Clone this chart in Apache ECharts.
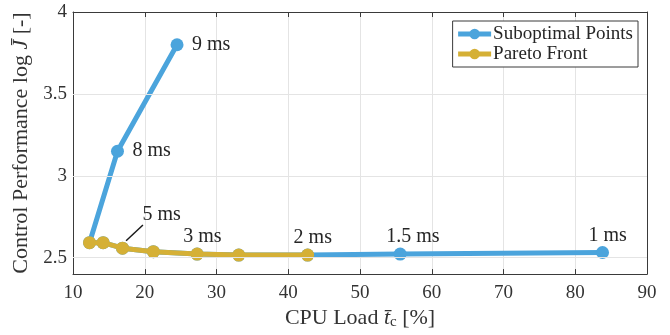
<!DOCTYPE html>
<html>
<head>
<meta charset="utf-8">
<script src="https://cdn.jsdelivr.net/npm/echarts@6/dist/echarts.min.js"></script>
<style>
  html, body { margin: 0; padding: 0; background: #fff; }
  #chart { width: 670px; height: 335px; }
</style>
</head>
<body>
<div id="chart"></div>
<script>
// Sampling periods, from fastest to slowest
const periods = ['1 ms', '1.5 ms', '2 ms', '2.5 ms', '3 ms', '4 ms', '5 ms', '6 ms', '7 ms', '8 ms', '9 ms'];
// CPU load (%) per period
const cpuLoad = [83.8, 55.6, 42.7, 33.1, 27.3, 21.2, 16.9, 14.2, 12.3, 16.2, 24.5];
// Control performance log J per period
const perf = [2.532, 2.522, 2.516, 2.516, 2.522, 2.537, 2.558, 2.592, 2.592, 3.15, 3.8];
// Indices of the periods on the Pareto front
const paretoIdx = [8, 7, 6, 5, 4, 3, 2];
// Periods that carry a text label
const labelled = ['1 ms', '1.5 ms', '2 ms', '3 ms', '5 ms', '8 ms', '9 ms'];

const xTicks = [10, 20, 30, 40, 50, 60, 70, 80, 90];
const yTicks = [2.5, 3, 3.5, 4];

const BLUE = '#4ba4dc';
const GOLD = '#d5b036';
const AXIS = '#3a3a3a';
const TEXT = '#333333';
const GRID = '#e4e4e4';
const FONT = 'Liberation Serif';

function labelFor(name) {
  if (!labelled.includes(name)) return { show: false };
  let offset;
  if (name === '8 ms' || name === '9 ms') offset = [15, 0];
  else if (name === '5 ms') offset = [20, -33];
  else offset = [-14, -17];
  return {
    show: true, formatter: name, position: 'inside', align: 'left', verticalAlign: 'middle',
    offset: offset, color: '#262626', fontFamily: FONT, fontSize: 20
  };
}

const subData = cpuLoad.map((x, i) => ({ value: [x, perf[i]], name: periods[i], label: labelFor(periods[i]) }));
const paretoData = paretoIdx.map(i => ({ value: [cpuLoad[i], perf[i]], name: periods[i] }));
const fiveIdx = periods.indexOf('5 ms');

const tickStyle = { show: true, inside: true, length: 5, lineStyle: { color: AXIS } };

const chart = echarts.init(document.getElementById('chart'), null, { renderer: 'canvas' });
chart.setOption({
  animation: false,
  textStyle: { fontFamily: FONT },
  grid: { left: 73, right: 23, top: 12, bottom: 60 },
  legend: {
    right: 32, top: 21,
    orient: 'vertical',
    backgroundColor: '#fff',
    borderColor: AXIS, borderWidth: 1, borderRadius: 0,
    padding: [3, 5, 3, 3],
    itemGap: 0, itemWidth: 33, itemHeight: 13,
    lineStyle: { width: 5 },
    textStyle: { fontFamily: FONT, fontSize: 19, lineHeight: 20, color: '#262626', padding: [0, 0, 0, -3] },
    data: ['Suboptimal Points', 'Pareto Front']
  },
  xAxis: [
    {
      type: 'value', position: 'bottom', min: 10, max: 90, interval: 10,
      axisLine: { show: true, lineStyle: { color: AXIS } },
      axisTick: tickStyle,
      axisLabel: { color: TEXT, fontSize: 19, fontFamily: FONT, margin: 9 },
      splitLine: { show: true, lineStyle: { color: GRID, width: 1 } },
      name: '{a|CPU Load }{it|t\u0304}{sub|c}{a| [%]}',
      nameLocation: 'middle', nameGap: 31,
      nameTextStyle: {
        rich: {
          a: { fontFamily: FONT, fontSize: 22, color: TEXT },
          it: { fontFamily: FONT, fontSize: 22, fontStyle: 'italic', color: TEXT },
          sub: { fontFamily: FONT, fontSize: 15, color: TEXT, padding: [9, 0, 0, 0] }
        }
      }
    },
    {
      type: 'value', position: 'top', min: 10, max: 90, interval: 10,
      axisLine: { show: true, lineStyle: { color: AXIS } },
      axisTick: tickStyle,
      axisLabel: { show: false }, splitLine: { show: false }
    }
  ],
  yAxis: [
    {
      type: 'value', position: 'left', min: 2.4, max: 4,
      axisLine: { show: true, lineStyle: { color: AXIS } },
      axisTick: Object.assign({ customValues: yTicks }, tickStyle),
      axisLabel: { customValues: yTicks, color: TEXT, fontSize: 19, fontFamily: FONT, margin: 6 },
      splitLine: { show: false },
      name: '{a|Control Performance log }{it|J\u0304}{a| [-]}',
      nameLocation: 'middle', nameGap: 37, nameRotate: 90,
      nameTextStyle: {
        rich: {
          a: { fontFamily: FONT, fontSize: 22, color: TEXT },
          it: { fontFamily: FONT, fontSize: 22, fontStyle: 'italic', color: TEXT }
        }
      }
    },
    {
      type: 'value', position: 'right', min: 2.4, max: 4,
      axisLine: { show: true, lineStyle: { color: AXIS } },
      axisTick: Object.assign({ customValues: yTicks }, tickStyle),
      axisLabel: { show: false }, splitLine: { show: false }
    }
  ],
  series: [
    {
      // horizontal grid lines at the labelled y ticks
      type: 'line', data: [], silent: true, z: 0,
      markLine: {
        silent: true, symbol: 'none', label: { show: false },
        lineStyle: { color: GRID, width: 1, type: 'solid' },
        data: yTicks.filter(v => v < 4).map(v => ({ yAxis: v }))
      }
    },
    {
      name: 'Suboptimal Points', type: 'line', data: subData,
      color: BLUE, lineStyle: { width: 5, color: BLUE },
      symbol: 'circle', symbolSize: 13, itemStyle: { color: BLUE },
      z: 3
    },
    {
      name: 'Pareto Front', type: 'line', data: paretoData,
      color: GOLD, lineStyle: { width: 5, color: GOLD },
      symbol: 'circle', symbolSize: 13, itemStyle: { color: GOLD },
      z: 4,
      markLine: {
        silent: true, symbol: 'none', label: { show: false },
        lineStyle: { color: '#1a1a1a', width: 1.5, type: 'solid' },
        data: [[
          { coord: [cpuLoad[fiveIdx] + 0.5, perf[fiveIdx] + 0.046] },
          { coord: [cpuLoad[fiveIdx] + 2.85, perf[fiveIdx] + 0.142] }
        ]]
      }
    }
  ]
});
</script>
</body>
</html>
